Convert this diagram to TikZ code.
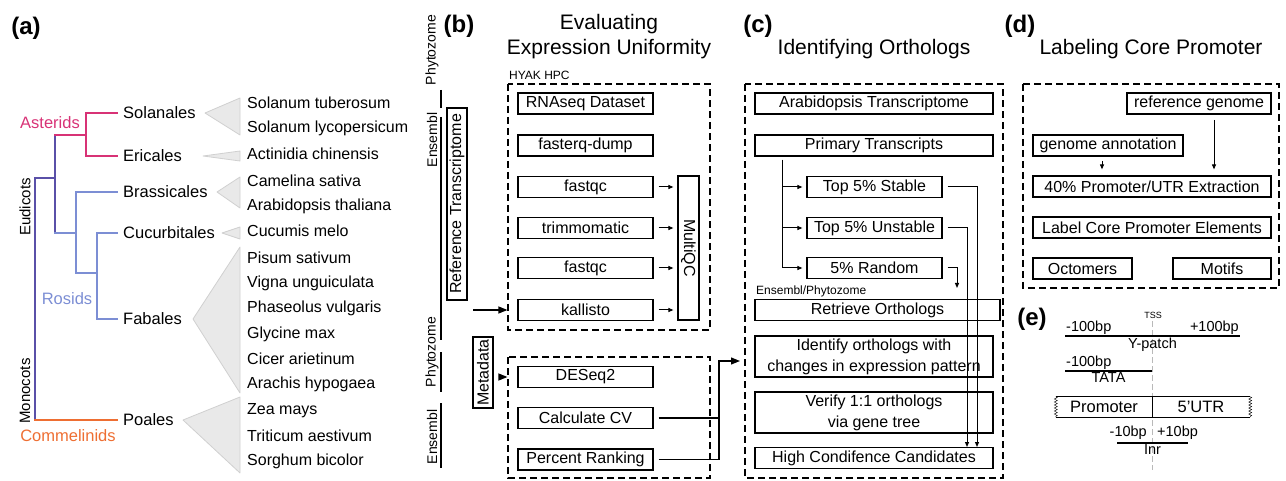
\documentclass[tikz,border=0pt]{standalone}
\usepackage{fontspec}
\setmainfont{Liberation Sans}
\usetikzlibrary{arrows.meta,decorations.pathmorphing}

\definecolor{asterid}{RGB}{216,50,118}
\definecolor{eudicot}{RGB}{90,80,168}
\definecolor{rosid}{RGB}{124,142,212}
\definecolor{commelinid}{RGB}{238,110,50}
\definecolor{cladefill}{RGB}{233,233,233}
\definecolor{cladeline}{RGB}{208,208,208}
\definecolor{tssline}{RGB}{185,185,185}

\newcommand{\fsz}[1]{\fontsize{#1}{#1}\selectfont}

\begin{document}
\begin{tikzpicture}[x=1pt,y=-1pt,
    panel/.style={font=\bfseries\fsz{24},inner sep=0,anchor=base},
    heading/.style={font=\fsz{21},inner sep=0,anchor=base},
    order/.style={font=\fsz{16.5},inner sep=0,anchor=west},
    species/.style={font=\fsz{16},inner sep=0,anchor=west},
    clade/.style={font=\fsz{16.5},inner sep=0},
    branch/.style={line width=2pt,line cap=rect},
    leaf/.style={branch,shorten >=6pt},
    fan/.style={fill=cladefill,draw=cladeline,line width=0.8pt,line join=round},
    db/.style={font=\fsz{14},inner sep=0,rotate=90},
    dbbar/.style={line width=2pt},
    stepbox/.style={draw,line width=1.2pt,minimum width=135pt,minimum height=21pt,inner sep=0,font=\fsz{16}},
    sidebox/.style={stepbox,minimum height=20pt,rotate=90},
    twoline/.style={stepbox,minimum width=238pt,minimum height=41pt,align=center,font=\fontsize{16}{21}\selectfont},
    group/.style={dash pattern=on 7pt off 4pt,line width=1.1pt},
    note/.style={font=\fsz{12},inner sep=0,anchor=west},
    tip/.style={-{Triangle[length=5pt,width=4pt]},line width=1pt},
    bigtip/.style={-{Triangle[length=9pt,width=7pt]},line width=1.2pt},
    seg/.style={line width=2pt},
    bp/.style={font=\fsz{14.5},inner sep=1pt},
    cell/.style={minimum height=20pt,inner sep=0,font=\fsz{16.5}}]

\useasboundingbox (0,0) rectangle (1286,481);

% (a) tree of orders
\node[panel] (la) at (26,35) {(a)};

\coordinate (angio) at (35,178);
\coordinate (eud) at (55,178);
\coordinate (ast) at (86,135);
\coordinate (ros) at (76,233);
\coordinate (leg) at (97,273);

\node[order] (sol) at (123,113) {Solanales};
\node[order] (eri) at (123,156) {Ericales};
\node[order] (bra) at (123,192) {Brassicales};
\node[order] (cuc) at (123,233) {Cucurbitales};
\node[order] (fab) at (123,319) {Fabales};
\node[order] (poa) at (123,420) {Poales};

\draw[branch,eudicot] (angio) -- (angio |- poa);
\draw[leaf,commelinid] (angio |- poa) -- (poa.west);
\draw[branch,eudicot] (angio) -- (eud);
\draw[branch,eudicot] (eud |- ast) -- (eud |- ros);
\draw[branch,asterid] (eud |- ast) -- (ast);
\draw[leaf,asterid] (ast) |- (sol.west);
\draw[leaf,asterid] (ast) |- (eri.west);
\draw[branch,rosid] (eud |- ros) -- (ros);
\draw[leaf,rosid] (ros) |- (bra.west);
\draw[branch,rosid] (ros) |- (leg);
\draw[leaf,rosid] (leg) |- (cuc.west);
\draw[leaf,rosid] (leg) |- (fab.west);

\node[clade,asterid,anchor=east] (astl) at (80,123) {Asterids};
\node[clade,rosid] (rosl) at (67,299) {Rosids};
\node[clade,commelinid] (coml) at (68,436) {Commelinids};
\node[clade,rotate=90,font=\fsz{15}] (eudl) at (25,207) {Eudicots};
\node[clade,rotate=90,font=\fsz{15}] (monl) at (25,391) {Monocots};

\filldraw[fan] (205,113) -- (240,98) -- (240,135) -- cycle;
\filldraw[fan] (203,156) -- (240,151) -- (240,161) -- cycle;
\filldraw[fan] (217,192) -- (240,177) -- (240,208) -- cycle;
\filldraw[fan] (222,233) -- (240,227) -- (240,239) -- cycle;
\filldraw[fan] (193,319) -- (240,247) -- (240,393) -- cycle;
\filldraw[fan] (183,420) -- (240,397) -- (240,473) -- cycle;

\node[species] (stub) at (247,103) {Solanum tuberosum};
\node[species] (slyc) at (247,128) {Solanum lycopersicum};
\node[species] (achi) at (247,154) {Actinidia chinensis};
\node[species] (csat) at (247,181) {Camelina sativa};
\node[species] (atha) at (247,206) {Arabidopsis thaliana};
\node[species] (cmel) at (247,231) {Cucumis melo};
\node[species] (psat) at (247,258) {Pisum sativum};
\node[species] (vung) at (247,283) {Vigna unguiculata};
\node[species] (pvul) at (247,308) {Phaseolus vulgaris};
\node[species] (gmax) at (247,334) {Glycine max};
\node[species] (cari) at (247,359) {Cicer arietinum};
\node[species] (ahyp) at (247,384) {Arachis hypogaea};
\node[species] (zmay) at (247,411) {Zea mays};
\node[species] (taes) at (247,436) {Triticum aestivum};
\node[species] (sbic) at (247,461) {Sorghum bicolor};

% (b) expression uniformity
\node[panel] (lb) at (459,33) {(b)};
\node[heading] (tb1) at (609,30) {Evaluating};
\node[heading] (tb2) at (609,55) {Expression Uniformity};

\node[db] (phy1) at (432,50) {Phytozome};
\draw[dbbar] (441,90) -- (441,108);
\node[db] (ens1) at (432,140) {Ensembl};
\draw[dbbar] (441,117) -- (441,340);
\node[db] (phy2) at (432,352) {Phytozome};
\draw[dbbar] (441,352) -- (441,392);
\node[db] (ens2) at (432,437) {Ensembl};
\draw[dbbar] (441,403) -- (441,468);

\node[sidebox,minimum width=192pt] (ref) at (457,204) {Reference Transcriptome};
\node[sidebox,minimum width=71pt] (meta) at (483,372.5) {Metadata};

\node[note] (hyak) at (509,75) {HYAK HPC};
\draw[group] (508,84) rectangle (710,330);
\draw[group] (508,357) rectangle (710,478);

\node[stepbox] (rna) at (585.5,103.5) {RNAseq Dataset};
\node[stepbox] (fqd) at (585.5,145.5) {fasterq-dump};
\node[stepbox] (qc1) at (585.5,187) {fastqc};
\node[stepbox] (trim) at (585.5,228) {trimmomatic};
\node[stepbox] (qc2) at (585.5,268) {fastqc};
\node[stepbox] (kal) at (585.5,310) {kallisto};
\node[stepbox,rotate=-90,minimum width=144pt] (mqc) at (688.5,248) {MultiQC};

\draw[tip,shorten >=4pt] ([xshift=5pt]qc1.east) -- (qc1.east -| mqc.south);
\draw[tip,shorten >=4pt] ([xshift=5pt]trim.east) -- (trim.east -| mqc.south);
\draw[tip,shorten >=4pt] ([xshift=5pt]qc2.east) -- (qc2.east -| mqc.south);
\draw[tip,shorten >=4pt] ([xshift=5pt]kal.east) -- (kal.east -| mqc.south);

\node[stepbox] (des) at (585.5,377) {DESeq2};
\node[stepbox] (cv) at (585.5,418) {Calculate CV};
\node[stepbox] (pr) at (585.5,459.5) {Percent Ranking};

\coordinate (refout) at (473,310);
\draw[bigtip,shorten >=10pt] (refout) -- (kal.west);
\draw[bigtip,shorten >=10pt,shorten <=5pt] (meta.south |- des.west) -- (des.west);

\coordinate (merge) at (719,361);
\coordinate (cin) at (740,361);
\draw[line width=1.2pt] ([xshift=5pt]cv.east) -- (cv.east -| merge);
\draw[bigtip] ([xshift=5pt]pr.east) -| (merge) -- (cin);

% (c) orthologs
\node[panel] (lc) at (758,33) {(c)};
\node[heading] (tc) at (874,55) {Identifying Orthologs};
\draw[group] (745,84) rectangle (1003,478);

\node[stepbox,minimum width=238pt] (arab) at (874,103.5) {Arabidopsis Transcriptome};
\node[stepbox,minimum width=238pt] (prim) at (874,145.5) {Primary Transcripts};
\node[stepbox] (stab) at (874.5,187) {Top 5\% Stable};
\node[stepbox] (unst) at (874.5,228) {Top 5\% Unstable};
\node[stepbox] (rand) at (874.5,268) {5\% Random};
\node[note] (ensphy) at (756,291) {Ensembl/Phytozome};
\node[stepbox,minimum width=245pt] (retr) at (877.5,310) {Retrieve Orthologs};
\node[twoline] (ident) at (874,356.5) {Identify orthologs with\\changes in expression pattern};
\node[twoline] (verif) at (874,412.5) {Verify 1:1 orthologs\\via gene tree};
\node[stepbox,minimum width=238pt] (hcc) at (874,458) {High Condifence Candidates};

\coordinate (split) at (782,160);
\draw[tip,shorten >=4pt] (split) |- (stab.west);
\draw[tip,shorten >=4pt] (split) |- (unst.west);
\draw[tip,shorten >=4pt] (split) |- (rand.west);

\coordinate (sdown) at (977,447);
\coordinate (udown) at (967,447);
\coordinate (rdown) at (957,288);
\draw[tip] ([xshift=5pt]stab.east) -| (sdown);
\draw[tip] ([xshift=5pt]unst.east) -| (udown);
\draw[tip] ([xshift=5pt]rand.east) -| (rdown);

% (d) core promoter
\node[panel] (ld) at (1020,33) {(d)};
\node[heading] (td) at (1151,55) {Labeling Core Promoter};
\draw[group] (1023,84) rectangle (1279,288);

\node[stepbox,minimum width=144pt] (refg) at (1199,103.5) {reference genome};
\node[stepbox,minimum width=150pt] (annot) at (1108,145.5) {genome annotation};
\node[stepbox,minimum width=238pt] (extr) at (1152,186.5) {40\% Promoter/UTR Extraction};
\node[stepbox,minimum width=238pt] (lcpe) at (1152,227.5) {Label Core Promoter Elements};
\node[stepbox,minimum width=99pt] (octo) at (1082.5,268.5) {Octomers};
\node[stepbox,minimum width=98pt] (motif) at (1222,268.5) {Motifs};

\coordinate (rgout) at (1214,120);
\coordinate (anout) at (1102,161);
\draw[tip,shorten >=6pt] (rgout) -- (rgout |- extr.north);
\draw[tip,shorten >=6pt] (anout) -- (anout |- extr.north);

% (e) element positions around the TSS
\node[panel] (le) at (1032,326) {(e)};
\node[font=\fsz{9},inner sep=0] (tss) at (1153,315) {TSS};
\coordinate (tsstop) at (1152,321);
\coordinate (tssbot) at (1152,470);
\draw[tssline,dash pattern=on 6pt off 3pt,line width=1pt] (tsstop) -- (tssbot);

\coordinate (ya) at (1065,336);
\coordinate (yb) at (1240,336);
\draw[seg] (ya) -- node[bp,anchor=north] (ylab) {Y-patch} (yb);
\node[bp,anchor=south west] (yminus) at (ya) {-100bp};
\node[bp,anchor=south east] (yplus) at (yb) {+100bp};

\coordinate (ta) at (1065,371);
\draw[seg] (ta) -- node[bp,anchor=north] (tlab) {TATA} (ta -| tsstop);
\node[bp,anchor=south west] (tminus) at (ta) {-100bp};

\node[cell,minimum width=96pt] (prom) at (1104,407) {Promoter};
\node[cell,minimum width=98pt] (utr) at (1201,407) {5'UTR};
\draw[line width=1.2pt] (prom.north west) -- (utr.north east);
\draw[line width=1.2pt] (prom.south west) -- (utr.south east);
\draw[line width=1.2pt] (prom.north east) -- (prom.south east);
\draw[decorate,decoration={zigzag,segment length=3pt,amplitude=1.5pt}] (prom.north west) -- (prom.south west);
\draw[decorate,decoration={zigzag,segment length=3pt,amplitude=1.5pt}] (utr.north east) -- (utr.south east);

\coordinate (ia) at (1117,443);
\coordinate (ib) at (1188,443);
\draw[seg] (ia) -- node[bp,anchor=north] (ilab) {Inr} (ib);
\node[bp,anchor=south east] (iminus) at (1148,441) {-10bp};
\node[bp,anchor=south west] (iplus) at (1156,441) {+10bp};

\end{tikzpicture}
\end{document}
